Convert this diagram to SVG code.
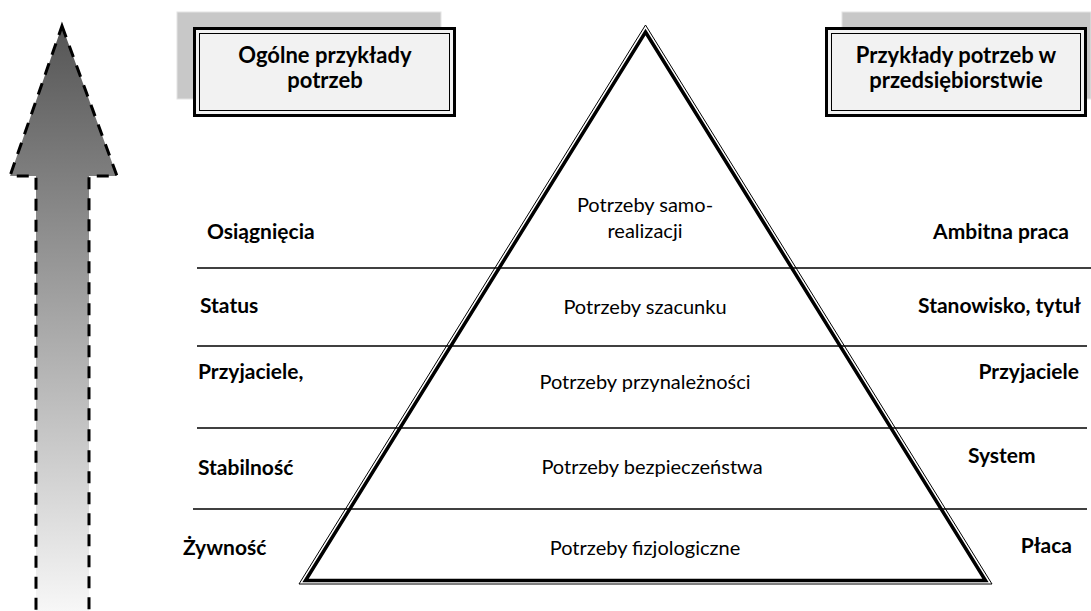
<svg xmlns="http://www.w3.org/2000/svg" width="1091" height="611" viewBox="0 0 1091 611">
<style>
.lbl{font-family:Lato,"Open Sans",sans-serif;font-size:21px;font-weight:bold;fill:#000}
.lvl{font-family:Lato,"Open Sans",sans-serif;font-size:20px;fill:#000;text-anchor:middle}
.ttl{font-family:Lato,"Open Sans",sans-serif;font-size:22px;font-weight:bold;fill:#000;text-anchor:middle}
.sep{stroke:#000;stroke-width:1.5;fill:none}
.shadow{fill:#c8c8c8;stroke:#e4e4e4;stroke-width:1}
.boxo{fill:#f2f2f2;stroke:#000;stroke-width:3}
.boxi{fill:none;stroke:#000;stroke-width:1}
</style>
<defs>
<linearGradient id="ag" x1="0" y1="0" x2="0" y2="1" gradientUnits="objectBoundingBox">
<stop offset="0" stop-color="#555"/>
<stop offset="1" stop-color="#fff"/>
</linearGradient>
</defs>
<rect width="1091" height="611" fill="#fff"/>
<g id="arrow">
<path d="M62,26 L117,176 L89,176 L89,640 L36,640 L36,176 L10,176 Z" fill="url(#ag)" stroke="#000" stroke-width="3" stroke-dasharray="12,9"/>
</g>
<g id="connectors">
<line class="sep" x1="197" y1="268" x2="1091" y2="268"/>
<line class="sep" x1="197" y1="346" x2="1087" y2="346"/>
<line class="sep" x1="197" y1="428" x2="1087" y2="428"/>
<line class="sep" x1="193" y1="509" x2="1087" y2="509"/>
</g>
<g id="pyramid">
<polygon points="645.5,25 992,584 299,584" fill="none" stroke="#000" stroke-width="1"/>
<polygon points="645.5,32 985.5,580.5 305.5,580.5" fill="none" stroke="#000" stroke-width="3.5"/>
</g>
<g id="box-left">
<rect class="shadow" x="177" y="12" width="264" height="87"/>
<rect class="boxo" x="194.5" y="28.5" width="260" height="87"/>
<rect class="boxi" x="199.5" y="33.5" width="250" height="77"/>
<text class="ttl" x="325" y="63">Ogólne przykłady</text>
<text class="ttl" x="325" y="88">potrzeb</text>
</g>
<g id="box-right">
<rect class="shadow" x="842" y="12" width="249" height="87"/>
<rect class="boxo" x="826.5" y="28.5" width="259" height="87"/>
<rect class="boxi" x="831.5" y="33.5" width="249" height="77"/>
<text class="ttl" x="956" y="63">Przykłady potrzeb w</text>
<text class="ttl" x="956" y="88">przedsiębiorstwie</text>
</g>
<g id="level-5">
<text class="lvl" x="645" y="212">Potrzeby samo-</text>
<text class="lvl" x="645" y="238">realizacji</text>
<text class="lbl" x="207" y="239">Osiągnięcia</text>
<text class="lbl" x="1069" y="239" text-anchor="end">Ambitna praca</text>
</g>
<g id="level-4">
<text class="lvl" x="645" y="314">Potrzeby szacunku</text>
<text class="lbl" x="200" y="313">Status</text>
<text class="lbl" x="1081" y="313" text-anchor="end">Stanowisko, tytuł</text>
</g>
<g id="level-3">
<text class="lvl" x="645" y="389">Potrzeby przynależności</text>
<text class="lbl" x="198" y="379">Przyjaciele,</text>
<text class="lbl" x="1079" y="379" text-anchor="end">Przyjaciele</text>
</g>
<g id="level-2">
<text class="lvl" x="652" y="474">Potrzeby bezpieczeństwa</text>
<text class="lbl" x="198" y="475">Stabilność</text>
<text class="lbl" x="968" y="463">System</text>
</g>
<g id="level-1">
<text class="lvl" x="645" y="555">Potrzeby fizjologiczne</text>
<text class="lbl" x="183" y="555">Żywność</text>
<text class="lbl" x="1072" y="553" text-anchor="end">Płaca</text>
</g>
</svg>
